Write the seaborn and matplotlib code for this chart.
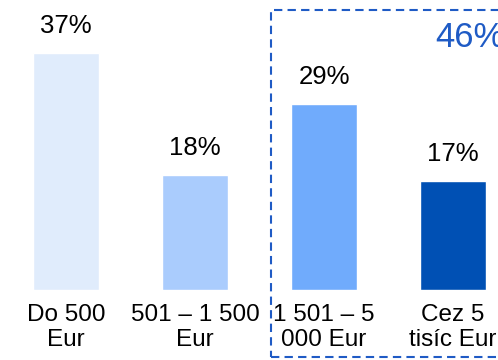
import matplotlib
matplotlib.use("Agg")
import matplotlib.pyplot as plt
import matplotlib.patches as mpatches
import pandas as pd
import seaborn as sns

categories = ["Do 500\nEur", "501 – 1 500\nEur", "1 501 – 5\n000 Eur", "Cez 5\ntisíc Eur"]
values = [37, 18, 29, 17]
colors = ["#E0ECFC", "#AACCFD", "#70ABFC", "#0050B4"]
group_label = "46%"
accent = "#1F5BC5"

sns.set_theme(style="white")
plt.rcParams["font.family"] = ["Liberation Sans", "DejaVu Sans"]

df = pd.DataFrame({"cat": categories, "val": values})

fig = plt.figure(figsize=(4.98, 3.6), dpi=100)
ax = fig.add_axes([0, 70 / 360, 1, 290 / 360])

sns.barplot(data=df, x="cat", y="val", hue="cat", palette=colors,
            width=0.51, legend=False, ax=ax, saturation=1)

ax.set_xlim(-66 / 129, (498 - 66) / 129)
ax.set_ylim(0, 290 / 6.4)

for i, v in enumerate(values):
    ax.annotate(f"{v}%", (i, v), xytext=(0, 14.5), textcoords="offset points",
                ha="center", va="baseline", fontsize=18.5, color="black")

ax.set_xlabel("")
ax.set_ylabel("")
ax.set_yticks([])
ax.tick_params(axis="x", length=0, pad=10, labelsize=17.5, labelcolor="black")
for lbl in ax.get_xticklabels():
    lbl.set_linespacing(1.2)
for s in ax.spines.values():
    s.set_visible(False)

# dashed box around the last two groups
box = mpatches.Rectangle((271 / 498, 3 / 360), 0.6, 347 / 360,
                         transform=fig.transFigure, fill=False,
                         edgecolor=accent, linewidth=1.5,
                         linestyle=(0, (4, 2.5)), clip_on=False)
fig.patches.append(box)
fig.text(435 / 498, (360 - 47) / 360, group_label, color=accent,
         fontsize=25, ha="left", va="baseline")

fig.savefig("out.png", dpi=100)
plt.close(fig)
